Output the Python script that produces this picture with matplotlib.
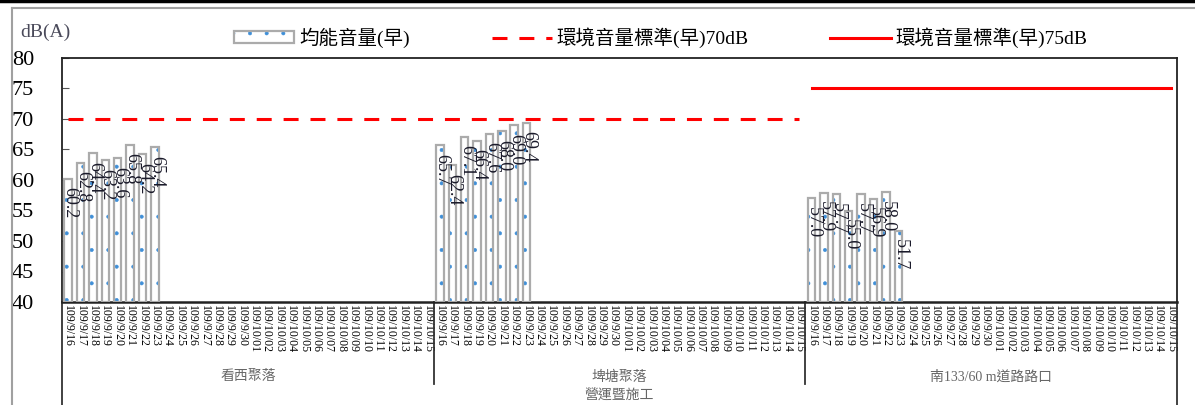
import numpy as np
import matplotlib
matplotlib.use("Agg")
import matplotlib.pyplot as plt
from matplotlib.patches import Patch
from matplotlib.lines import Line2D
from matplotlib.legend_handler import HandlerTuple

# 測站 / 日期 / 均能音量
sites = ["看西聚落", "埤塘聚落", "南133/60 m道路路口"]
stage = "營運暨施工"
dates = [
    "109/9/16", "109/9/17", "109/9/18", "109/9/19", "109/9/20",
    "109/9/21", "109/9/22", "109/9/23", "109/9/24", "109/9/25",
    "109/9/26", "109/9/27", "109/9/28", "109/9/29", "109/9/30",
    "109/10/01", "109/10/02", "109/10/03", "109/10/04", "109/10/05",
    "109/10/06", "109/10/07", "109/10/08", "109/10/09", "109/10/10",
    "109/10/11", "109/10/12", "109/10/13", "109/10/14", "109/10/15",
]
leq_site1 = [60.2, 62.8, 64.4, 63.2, 63.6, 65.8, 64.2, 65.4]
leq_site2 = [65.7, 62.4, 67.1, 66.4, 67.6, 68.0, 69.0, 69.4]
leq_site3 = [57.0, 57.9, 57.7, 55.0, 57.7, 56.9, 58.0, 51.7]
std_70 = [70] * 60   # 看西聚落, 埤塘聚落
std_75 = [75] * 30   # 南133/60 m道路路口

n = len(dates)
labels = dates * len(sites)
x = np.arange(len(labels))

cjk = ["Liberation Serif", "Noto Sans CJK TC"]
plt.rcParams["hatch.linewidth"] = 0.4

fig = plt.figure(figsize=(11.95, 4.05), dpi=100)
ax = fig.add_axes([62 / 1195, 103 / 405, 1115 / 1195, 244 / 405])

bar_x = []
bar_y = []
for i, vals in enumerate([leq_site1, leq_site2, leq_site3]):
    for j, v in enumerate(vals):
        bar_x.append(i * n + j)
        bar_y.append(v)

ax.bar(bar_x, np.array(bar_y) - 40, bottom=40, width=0.6, color="white",
       edgecolor="#3f8fd8", linewidth=0, hatch=".", zorder=2)
ax.bar(bar_x, np.array(bar_y) - 40, bottom=40, width=0.6, fill=False,
       edgecolor="#ababab", linewidth=1.6, zorder=3)
for bx, by in zip(bar_x, bar_y):
    ax.text(bx + 0.15, by - 1.4, f"{by:.1f}", rotation=270, ha="center", va="top",
            fontsize=13, family="Liberation Serif", color="#1a1a2a", zorder=4)

ax.plot(x[:60], std_70, color="#ff0000", lw=2.2, dashes=(4.9, 3.9), zorder=5)
ax.plot(x[60:], std_75, color="#ff0000", lw=2.2, zorder=5)

ax.set_xlim(-0.5, len(labels) - 0.5)
ax.set_ylim(40, 80)
ax.set_yticks(range(40, 81, 5))
ax.set_yticklabels([str(v) for v in range(40, 81, 5)], family="Liberation Serif",
                   fontsize=16)
ax.tick_params(axis="y", direction="in", length=5, color="#555555", pad=20)
ax.set_xticks(x)
ax.set_xticklabels(labels, rotation=270, family="Liberation Serif", fontsize=8.5)
ax.tick_params(axis="x", length=0, pad=2)
for s in ax.spines.values():
    s.set_color("#222222")
    s.set_linewidth(1.3)
ax.spines["bottom"].set_linewidth(1.8)

# 分組線與分組名稱
tr = ax.get_xaxis_transform()
for sx in [n - 0.5, 2 * n - 0.5]:
    ax.plot([sx, sx], [0, -0.336], transform=tr, color="#333333", lw=1.3,
            clip_on=False)
for sx in [-0.5, len(labels) - 0.5]:
    ax.plot([sx, sx], [0, -0.45], transform=tr, color="#333333", lw=1.3,
            clip_on=False)
for i, name in enumerate(sites):
    ax.text(i * n + (n - 1) / 2, -0.307, name, transform=tr, ha="center",
            va="center", fontsize=10, family=cjk, color="#666666")
ax.text((len(labels) - 1) / 2, -0.381, stage, transform=tr, ha="center",
        va="center", fontsize=10, family=cjk, color="#666666")

fig.text(20 / 1195, 1 - 32 / 405, "dB(A)", family="Liberation Serif", fontsize=14,
         color="#4a4a5a", va="center")

# 圖例
h_bar = (Patch(facecolor="white", edgecolor="#3f8fd8", linewidth=0, hatch="."),
         Patch(fill=False, edgecolor="#ababab", linewidth=1.6))
h_70 = Line2D([], [], color="#ff0000", lw=2.2, dashes=(4.9, 3.9))
h_75 = Line2D([], [], color="#ff0000", lw=2.2)
fig.legend([h_bar, h_70, h_75],
           ["均能音量(早)", "環境音量標準(早)70dB", "環境音量標準(早)75dB"],
           handler_map={tuple: HandlerTuple(ndivide=1)},
           loc="center", bbox_to_anchor=(0.553, 1 - 38 / 405), ncol=3,
           frameon=False, prop={"family": cjk, "size": 14},
           handlelength=3.1, handleheight=0.55, handletextpad=0.25,
           columnspacing=4.2)

# 外框
fig.add_artist(Line2D([0, 1], [1 - 1.2 / 405, 1 - 1.2 / 405], color="black", lw=2.5))
fig.add_artist(Line2D([12 / 1195, 1], [1 - 8 / 405, 1 - 8 / 405], color="#a0a0a0",
                      lw=1.5))
fig.add_artist(Line2D([12 / 1195, 12 / 1195], [0, 1 - 8 / 405], color="#a0a0a0",
                      lw=1.5))

fig.savefig("out.png", dpi=100)
